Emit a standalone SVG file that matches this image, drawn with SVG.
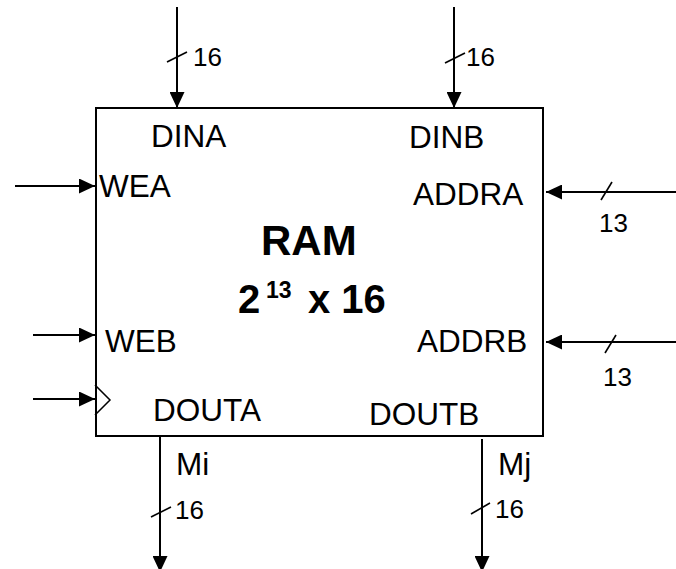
<svg xmlns="http://www.w3.org/2000/svg" width="676" height="569" viewBox="0 0 676 569">
<style>
  .wire{stroke:#000;stroke-width:2;fill:none}
  .tick{stroke:#000;stroke-width:1.6;fill:none}
  .lbl{font-family:"Liberation Sans",Arial,sans-serif;font-size:31.5px;fill:#000}
  .w{font-family:"Liberation Sans",Arial,sans-serif;font-size:26px;fill:#000}
  .big{font-family:"Liberation Sans",Arial,sans-serif;font-weight:bold;fill:#000}
</style>
<defs>
  <marker id="ah" markerUnits="userSpaceOnUse" markerWidth="16" markerHeight="15" refX="16" refY="7.5" orient="auto">
    <path d="M0,0 L16,7.5 L0,15 Z" fill="#000"/>
  </marker>
</defs>
<rect width="676" height="569" fill="#fff"/>
<g id="ram">
  <rect x="96" y="108" width="447" height="328" fill="#fff" stroke="#000" stroke-width="2"/>
  <polyline points="95,385 110,400 95,415" fill="none" stroke="#000" stroke-width="1.5"/>
  <text class="big" x="261" y="255" font-size="42">RAM</text>
  <text class="big" x="238" y="313" font-size="40">2</text>
  <text class="big" x="266" y="298" font-size="23">13</text>
  <text class="big" x="308" y="313" font-size="40">x 16</text>
  <text class="lbl" x="151" y="147">DINA</text>
  <text class="lbl" x="409" y="148">DINB</text>
  <text class="lbl" x="99" y="197">WEA</text>
  <text class="lbl" x="105" y="352">WEB</text>
  <text class="lbl" x="413" y="205">ADDRA</text>
  <text class="lbl" x="417" y="352">ADDRB</text>
  <text class="lbl" x="153" y="421">DOUTA</text>
  <text class="lbl" x="369" y="425">DOUTB</text>
</g>
<g id="connectors">
  <line class="wire" x1="177" y1="7" x2="177" y2="108" marker-end="url(#ah)"/>
  <line class="tick" x1="167" y1="62" x2="187" y2="52"/>
  <text class="w" x="193" y="66">16</text>
  <line class="wire" x1="454" y1="7" x2="454" y2="108" marker-end="url(#ah)"/>
  <line class="tick" x1="445" y1="63" x2="465" y2="53"/>
  <text class="w" x="466" y="66">16</text>
  <line class="wire" x1="15" y1="186" x2="95" y2="186" marker-end="url(#ah)"/>
  <line class="wire" x1="33" y1="335" x2="95" y2="335" marker-end="url(#ah)"/>
  <line class="wire" x1="33" y1="399" x2="95" y2="399" marker-end="url(#ah)"/>
  <line class="wire" x1="676" y1="192" x2="546" y2="192" marker-end="url(#ah)"/>
  <line class="tick" x1="601" y1="200" x2="612" y2="182"/>
  <text class="w" x="599" y="232">13</text>
  <line class="wire" x1="676" y1="342" x2="546" y2="342" marker-end="url(#ah)"/>
  <line class="tick" x1="605" y1="353" x2="616" y2="335"/>
  <text class="w" x="603" y="386">13</text>
  <line class="wire" x1="160" y1="437" x2="160" y2="572" marker-end="url(#ah)"/>
  <line class="tick" x1="151" y1="517" x2="171" y2="507"/>
  <text class="lbl" x="176" y="475">Mi</text>
  <text class="w" x="175" y="519">16</text>
  <line class="wire" x1="482" y1="439" x2="482" y2="572" marker-end="url(#ah)"/>
  <line class="tick" x1="471" y1="514" x2="490" y2="503"/>
  <text class="lbl" x="498" y="475">Mj</text>
  <text class="w" x="495" y="518">16</text>
</g>
</svg>
